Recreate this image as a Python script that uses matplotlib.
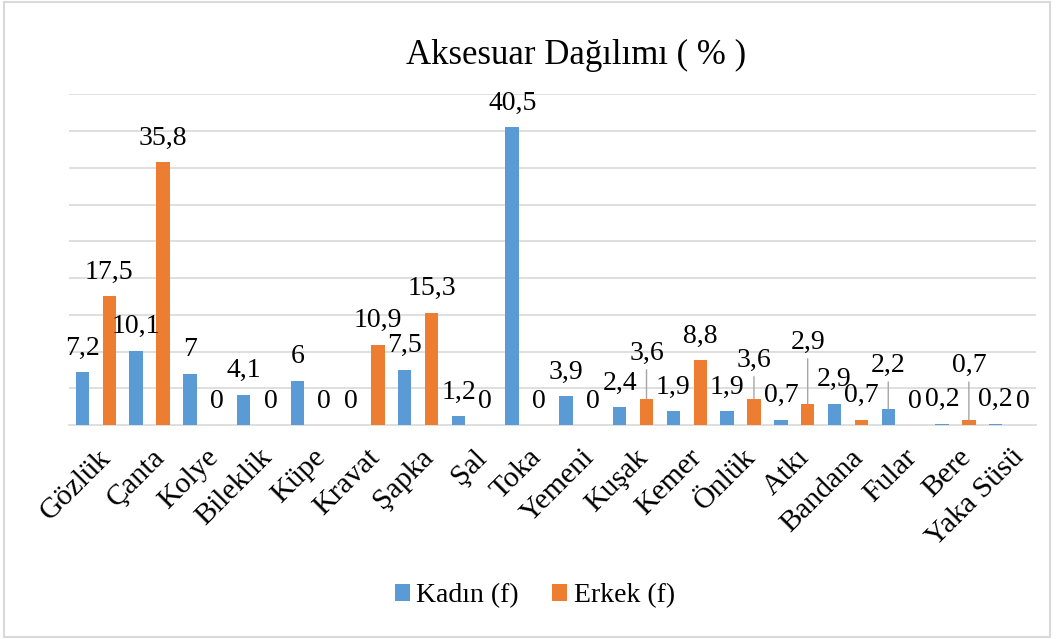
import matplotlib
matplotlib.use("Agg")
from matplotlib import pyplot as plt
from matplotlib.patches import Rectangle
from matplotlib.transforms import ScaledTranslation

plt.rcParams['font.family'] = ['Liberation Serif', 'DejaVu Serif']

categories = ["Gözlük", "Çanta", "Kolye", "Bileklik", "Küpe", "Kravat", "Şapka", "Şal", "Toka",
              "Yemeni", "Kuşak", "Kemer", "Önlük", "Atkı", "Bandana", "Fular", "Bere", "Yaka Süsü"]
kadin = [7.2, 10.1, 7, 4.1, 6, 0, 7.5, 1.2, 40.5, 3.9, 2.4, 1.9, 1.9, 0.7, 2.9, 2.2, 0.2, 0.2]
erkek = [17.5, 35.8, 0, 0, 0, 10.9, 15.3, 0, 0, 0, 3.6, 8.8, 3.6, 2.9, 0.7, 0, 0.7, 0]
series_names = ["Kadın (f)", "Erkek (f)"]

blue = "#5B9BD5"
orange = "#ED7D31"
grid_c = "#D9D9D9"

# labels that were pulled up with a leader line (extra lift in pixels above the bar)
lifted = {(1, "Kuşak"): 39, (1, "Önlük"): 32, (1, "Atkı"): 55, (0, "Fular"): 37, (1, "Bere"): 48}

W, H = 1059, 639
fig = plt.figure(figsize=(W / 100, H / 100), dpi=100)
ax = fig.add_axes([69 / W, (H - 425) / H, (1036 - 69) / W, (425 - 94.3) / H])

x = list(range(len(categories)))
bw = 0.25
ax.bar([i - 0.25 for i in x], kadin, width=bw, color=blue, label=series_names[0], zorder=3)
ax.bar([i + 0.25 for i in x], erkek, width=bw, color=orange, label=series_names[1], zorder=3)

px = 0.72  # points per pixel at dpi 100
for s, vals in enumerate([kadin, erkek]):
    off = -0.25 if s == 0 else 0.25
    for i, v in enumerate(vals):
        txt = ("%g" % v).replace(".", ",")
        key = (s, categories[i])
        if key in lifted:
            ax.annotate(txt, xy=(i + off, v), xytext=(0, lifted[key] * px), textcoords="offset points",
                        ha="center", va="baseline", fontsize=20, color="#000000", zorder=5,
                        arrowprops=dict(arrowstyle="-", color="#A6A6A6", lw=1, shrinkA=1, shrinkB=0))
        else:
            ax.annotate(txt, xy=(i + off, v), xytext=(0, 17.5 * px), textcoords="offset points",
                        ha="center", va="baseline", fontsize=20, color="#000000", zorder=5)

ax.set_xlim(-0.5, len(categories) - 0.5)
ax.set_ylim(0, 45)
ax.set_yticks(range(5, 46, 5))
ax.set_yticklabels([])
ax.tick_params(axis="y", length=0)
ax.grid(axis="y", color=grid_c, lw=1.2, zorder=0)
ax.set_xticks(x)
ax.set_xticklabels(categories, rotation=45, ha="right", va="top", rotation_mode="anchor", fontsize=21.5)
ax.tick_params(axis="x", length=0, pad=14)
shift = ScaledTranslation(2 / 100, 0, fig.dpi_scale_trans)
for lab in ax.get_xticklabels():
    lab.set_transform(lab.get_transform() + shift)
for sp in ["left", "right", "top"]:
    ax.spines[sp].set_visible(False)
ax.spines["bottom"].set_color(grid_c)
ax.spines["bottom"].set_linewidth(1.2)

fig.text(576 / W, 1 - 64 / H, "Aksesuar Dağılımı ( % )", ha="center", va="baseline", fontsize=25)

fig.legend(loc="center", bbox_to_anchor=(535 / W, 1 - 596 / H), ncol=2, frameon=False, fontsize=20,
           handlelength=0.54, handleheight=0.54, handletextpad=0.25, columnspacing=1.2)

fig.patches.append(Rectangle((4 / W, 2 / H), 1046 / W, 635 / H, transform=fig.transFigure,
                             fill=False, edgecolor=grid_c, lw=1.5))

fig.savefig("out.png", dpi=100)
